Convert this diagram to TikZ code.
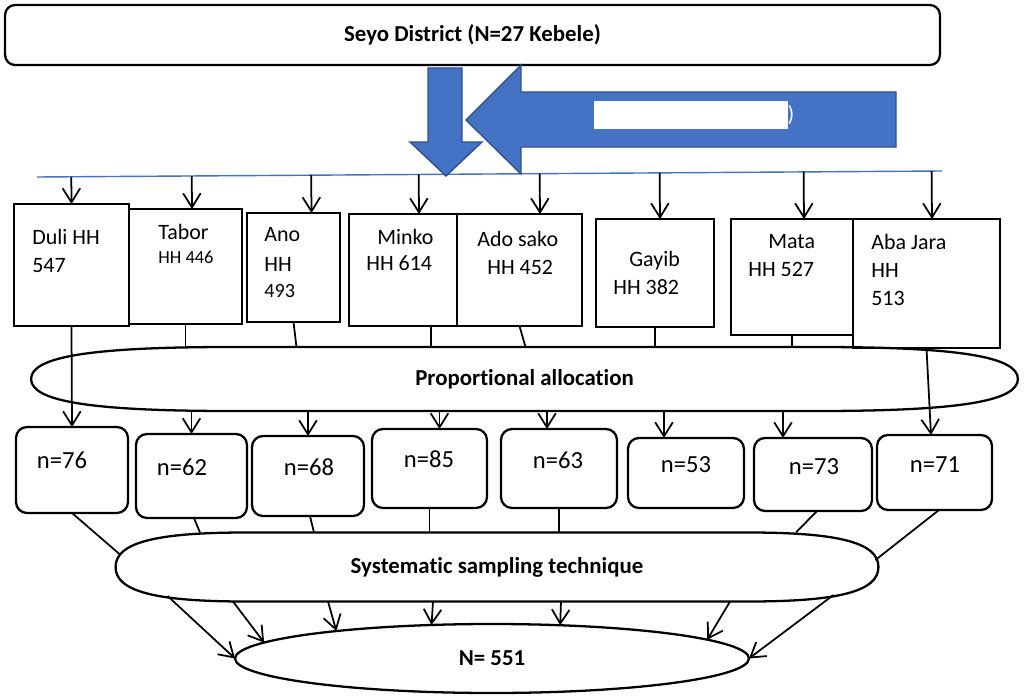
\documentclass[tikz,border=0pt]{standalone}
\usepackage{fontspec}
\setmainfont{Carlito}[Ligatures=NoCommon]
\usepackage{tikz}
\usetikzlibrary{arrows.meta,calc,shapes.geometric}

\definecolor{officeblue}{HTML}{4472C4}
\definecolor{edgeblue}{HTML}{2F528F}

% outline of a flat oval round a (rectangular) node
\newcommand{\drawcapsule}[2]{%
  \draw[line width=1.3pt] (#1.west) .. controls ($(#1.west)!0.7!(#1.north west)$) and ($(#1.north west)+(0.3*#2,0)$) .. ($(#1.north west)+(#2,0)$)
    -- ($(#1.north east)+(-#2,0)$) .. controls ($(#1.north east)+(-0.3*#2,0)$) and ($(#1.east)!0.7!(#1.north east)$) .. (#1.east)
    .. controls ($(#1.east)!0.7!(#1.south east)$) and ($(#1.south east)+(-0.3*#2,0)$) .. ($(#1.south east)+(-#2,0)$)
    -- ($(#1.south west)+(#2,0)$) .. controls ($(#1.south west)+(0.3*#2,0)$) and ($(#1.west)!0.7!(#1.south west)$) .. (#1.west) -- cycle;}

\begin{document}
\begin{tikzpicture}[x=0.02cm, y=-0.02cm,
    box/.style={draw, line width=1.3pt, inner sep=0, outer sep=0, anchor=north west},
    nbox/.style={draw, line width=1.3pt, rounded corners=0.22cm, inner sep=0, outer sep=0, anchor=north west},
    txt/.style={inner sep=0, anchor=north west, align=left, font=\fontsize{12.5}{16}\selectfont},
    ntxt/.style={inner sep=0, font=\fontsize{14}{16}\selectfont},
    head/.style={inner sep=0, outer sep=0, font=\bfseries\fontsize{13}{16}\selectfont},
    arr/.style={line width=1pt, -{Straight Barb[length=8pt,width=10pt]}},
    link/.style={line width=1pt},
    bigarrow/.style={fill=officeblue, draw=edgeblue, line width=0.8pt}]

    \useasboundingbox (0,0) rectangle (1024,696);

    % Define the district box
    \node[head, draw, line width=1.3pt, rounded corners=0.2cm, minimum width=18.7cm, minimum height=1.2cm] (district) at (472.5,35) {Seyo District (N=27 Kebele)};

    % Define the blue line and the two block arrows
    \coordinate (bl) at (37,177);
    \coordinate (br) at (942,171);
    \draw[officeblue, line width=0.8pt] (bl) -- (br);
    \draw[bigarrow] (428,68) -- (462,68) -- (462,142) -- (482,142) -- (446,176) -- (410,142) -- (428,142) -- cycle;
    \draw[bigarrow] (466,120) -- (521,65) -- (521,92) -- (896,92) -- (896,147) -- (521,147) -- (521,174) -- cycle;
    \node[fill=white, inner sep=0, minimum width=3.88cm, minimum height=0.56cm] (mask) at (691,115) {};
    \node[ntxt, text=white, font=\fontsize{12.5}{14}\selectfont] (paren) at (791,115) {)};

    % Define kebele boxes
    \node[box, minimum width=2.3cm, minimum height=2.44cm] (duli) at (14,204) {};
    \node[box, minimum width=2.26cm, minimum height=2.3cm] (tabor) at (129,209) {};
    \node[box, minimum width=1.86cm, minimum height=2.18cm] (ano) at (247,213) {};
    \node[box, minimum width=2.16cm, minimum height=2.24cm] (minko) at (349,214) {};
    \node[box, minimum width=2.5cm, minimum height=2.24cm] (ado) at (457,214) {};
    \node[box, minimum width=2.36cm, minimum height=2.16cm] (gayib) at (596,219) {};
    \node[box, minimum width=2.44cm, minimum height=2.32cm] (mata) at (731,219) {};
    \node[box, minimum width=2.94cm, minimum height=2.58cm] (aba) at (853,219) {};

    \node[txt] (duliT) at (32,229) {Duli HH\\547};
    \node[txt] (taborT) at (158,224) {Tabor\\[-2.4pt]{\fontsize{10.5}{12}\selectfont HH 446}};
    \node[txt] (anoT) at (264,227) {Ano\\[1pt]HH\\[-1.2pt]{\fontsize{11.5}{14}\selectfont 493}};
    \node[txt] (minkoT) at (366,229) {\hspace*{0.22cm}Minko\\[-1.3pt]HH 614};
    \node[txt] (adoT) at (477,231) {Ado sako\\\hspace*{0.2cm}HH 452};
    \node[txt] (gayibT) at (613,251) {\hspace*{0.32cm}Gayib\\HH 382};
    \node[txt] (mataT) at (748,234) {\hspace*{0.4cm}Mata\\HH 527};
    \node[txt] (abaT) at (871,234) {Aba Jara\\HH\\513};

    % Define arrows from the blue line
    \draw[arr] ($(bl)!(duli.north)!(br)$) -- (duli.north);
    \draw[arr] ($(bl)!([xshift=0.13cm]tabor.north)!(br)$) -- ([xshift=0.13cm]tabor.north);
    \draw[arr] ($(bl)!([xshift=0.36cm]ano.north)!(br)$) -- ([xshift=0.36cm]ano.north);
    \draw[arr] ($(bl)!([xshift=0.32cm]minko.north)!(br)$) -- ([xshift=0.32cm]minko.north);
    \draw[arr] ($(bl)!([xshift=0.41cm]ado.north)!(br)$) -- ([xshift=0.41cm]ado.north);
    \draw[arr] ($(bl)!([xshift=0.1cm]gayib.north)!(br)$) -- ([xshift=0.1cm]gayib.north);
    \draw[arr] ($(bl)!([xshift=0.24cm]mata.north)!(br)$) -- ([xshift=0.24cm]mata.north);
    \draw[arr] ($(bl)!([xshift=0.11cm]aba.north)!(br)$) -- ([xshift=0.11cm]aba.north);

    % Define proportional allocation oval
    \node[head, minimum width=19.74cm, minimum height=1.28cm] (prop) at (524.5,379) {Proportional allocation};
    \drawcapsule{prop}{4cm}

    % Define sample boxes
    \node[nbox, minimum width=2.24cm, minimum height=1.72cm] (n76) at (16,427) {};
    \node[nbox, minimum width=2.22cm, minimum height=1.68cm] (n62) at (136,434) {};
    \node[nbox, minimum width=2.24cm, minimum height=1.6cm] (n68) at (252,436) {};
    \node[nbox, minimum width=2.3cm, minimum height=1.58cm] (n85) at (372,429) {};
    \node[nbox, minimum width=2.32cm, minimum height=1.58cm] (n63) at (501,429) {};
    \node[nbox, minimum width=2.32cm, minimum height=1.4cm] (n53) at (628,438) {};
    \node[nbox, minimum width=2.36cm, minimum height=1.46cm] (n73) at (754,438) {};
    \node[nbox, minimum width=2.3cm, minimum height=1.5cm] (n71) at (877,435) {};

    \node[ntxt] (n76T) at (62,460.5) {n=76};
    \node[ntxt] (n62T) at (182,467) {n=62};
    \node[ntxt] (n68T) at (309,467.5) {n=68};
    \node[ntxt] (n85T) at (429,459.5) {n=85};
    \node[ntxt] (n63T) at (558,460.5) {n=63};
    \node[ntxt] (n53T) at (686,464.5) {n=53};
    \node[ntxt] (n73T) at (814,466.5) {n=73};
    \node[ntxt] (n71T) at (935,464.5) {n=71};

    % Define edges from kebele boxes to the oval
    \draw[link] (tabor.south) -- (tabor.south |- prop.north);
    \draw[link] (ano.south) -- ([xshift=0.06cm]ano.south |- prop.north);
    \draw[link] ([xshift=0.56cm]minko.south) -- ([xshift=0.56cm]minko.south |- prop.north);
    \draw[link] (ado.south) -- ([xshift=0.12cm]ado.south |- prop.north);
    \draw[link] (gayib.south) -- (gayib.south |- prop.north);
    \draw[link] (mata.south) -- (mata.south |- prop.north);
    \draw[arr] (duli.south) -- (n76.north);
    \draw[arr] (aba.south) -- ([xshift=-0.07cm]n71.north);

    % Define arrows from the oval to sample boxes
    \draw[arr] (n62.north |- prop.south) -- (n62.north);
    \draw[arr] (n68.north |- prop.south) -- (n68.north);
    \draw[arr] ([xshift=0.2cm]n85.north |- prop.south) -- ([xshift=0.2cm]n85.north);
    \draw[arr] ([xshift=-0.24cm]n63.north |- prop.south) -- ([xshift=-0.24cm]n63.north);
    \draw[arr] ([xshift=-0.44cm]n53.north |- prop.south) -- ([xshift=-0.44cm]n53.north);
    \draw[arr] ([xshift=-0.6cm]n73.north |- prop.south) -- ([xshift=-0.6cm]n73.north);

    % Define systematic sampling oval and total
    \node[head, minimum width=15.26cm, minimum height=1.38cm] (sys) at (497,567) {Systematic sampling technique};
    \drawcapsule{sys}{2.6cm}
    \node[head, draw, ellipse, line width=1.3pt, minimum width=10.28cm, minimum height=1.38cm] (n551) at (492,658.5) {N= 551};

    \draw[link] (n76.south) -- ([shift={(5,-12)}]sys.west);
    \draw[link] ([xshift=0.05cm]n62.south) -- ([xshift=0.17cm]n62.south |- sys.north);
    \draw[link] ([xshift=0.04cm]n68.south) -- ([xshift=0.12cm]n68.south |- sys.north);
    \draw[link] (n85.south) -- (n85.south |- sys.north);
    \draw[link] (n63.south) -- (n63.south |- sys.north);
    \draw[link] ([xshift=0.08cm]n73.south) -- ([xshift=-0.34cm]n73.south |- sys.north);
    \draw[link] ([xshift=0.09cm]n71.south) -- ([shift={(-3,-7)}]sys.east);

    \draw[arr] ([shift={(52,29)}]sys.west) -- (n551.west);
    \draw[arr] (233,0 |- sys.south) -- (n551.176);
    \draw[arr] (328,0 |- sys.south) -- (n551.170);
    \draw[arr] (433,0 |- sys.south) -- (n551.151);
    \draw[arr] (561,0 |- sys.south) -- (n551.26);
    \draw[arr] (730,0 |- sys.south) -- (n551.5);
    \draw[arr] ([shift={(-45,28)}]sys.east) -- (n551.east);
\end{tikzpicture}
\end{document}
